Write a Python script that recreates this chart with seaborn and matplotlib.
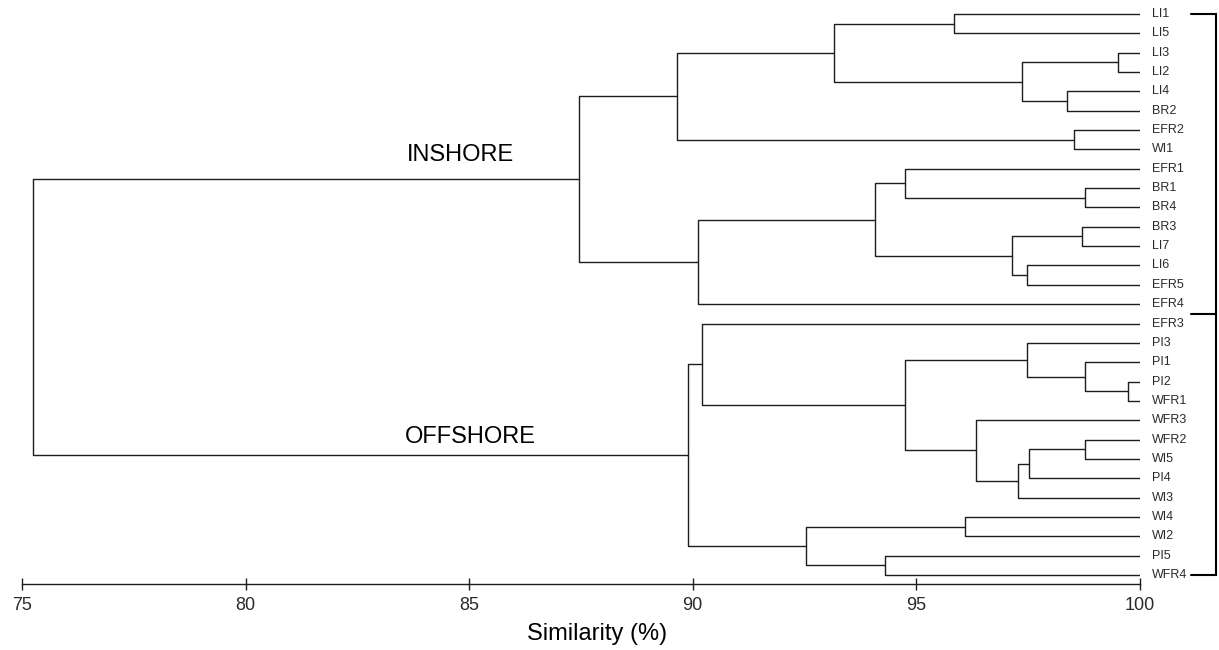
import numpy as np
import pandas as pd
import matplotlib
matplotlib.use("Agg")
import matplotlib.pyplot as plt
import seaborn as sns

# ---------------- data ----------------
leaves = ["LI1", "LI5", "LI3", "LI2", "LI4", "BR2", "EFR2", "WI1",
          "EFR1", "BR1", "BR4", "BR3", "LI7", "LI6", "EFR5", "EFR4",
          "EFR3", "PI3", "PI1", "PI2", "WFR1", "WFR3", "WFR2", "WI5",
          "PI4", "WI3", "WI4", "WI2", "PI5", "WFR4"]

# merges: node ids 0..29 are leaves, new nodes get ids 30, 31, ...
merge_left = [0, 2, 4, 31, 30, 6, 34, 9, 8, 11, 13, 39, 38, 42, 36,
              19, 18, 17, 22, 48, 49, 21, 47, 16, 26, 28, 54, 53, 44]
merge_right = [1, 3, 5, 32, 33, 7, 35, 10, 37, 12, 14, 40, 41, 15, 43,
               20, 45, 46, 23, 24, 25, 50, 51, 52, 27, 29, 55, 56, 57]
merge_sim = [95.85, 99.51, 98.38, 97.37, 93.16, 98.54, 89.65, 98.78, 94.76,
             98.71, 97.49, 97.15, 94.08, 90.12, 87.46,
             99.74, 98.78, 97.49, 98.78, 97.53, 97.29, 96.34, 94.76, 90.21,
             96.09, 94.30, 92.55, 89.89, 75.24]

group_names = ["INSHORE", "OFFSHORE"]
group_sizes = [16, 14]
x_ticks = [75, 80, 85, 90, 95, 100]
x_label = "Similarity (%)"

# ---------------- build dendrogram segments ----------------
n = len(leaves)
node_x = [100.0] * n
node_y = [float(i) for i in range(n)]
records = []
for k, (a, b, h) in enumerate(zip(merge_left, merge_right, merge_sim)):
    pts = [(node_x[a], node_y[a]), (h, node_y[a]), (h, node_y[b]), (node_x[b], node_y[b])]
    for px, py in pts:
        records.append({"sim": px, "row": py, "seg": k})
    node_x.append(h)
    node_y.append((node_y[a] + node_y[b]) / 2.0)
df = pd.DataFrame(records)

# ---------------- plot ----------------
sns.set_theme(style="white")
plt.rcParams["font.family"] = ["Liberation Sans", "DejaVu Sans"]

W, H = 1219, 650
fig = plt.figure(figsize=(W / 100, H / 100), dpi=100)
ax = fig.add_axes([22 / W, 66 / H, 1117.5 / W, 579 / H])

sns.lineplot(data=df, x="sim", y="row", units="seg", estimator=None, sort=False,
             color="#1e1e1e", linewidth=1.0, ax=ax, legend=False)

ax.set_xlim(75, 100)
ax.set_ylim(29.465, -0.465)
ax.set_xlabel("")
ax.set_ylabel("")
ax.set_yticks([])
ax.set_xticks(x_ticks)
ax.set_xticklabels([str(t) for t in x_ticks])
for s in ["top", "right", "left"]:
    ax.spines[s].set_visible(False)
ax.spines["bottom"].set_color("#1e1e1e")
ax.spines["bottom"].set_linewidth(1.0)
ax.tick_params(axis="x", direction="inout", length=9, width=1.0, color="#1e1e1e",
               pad=4.5, labelsize=13, labelcolor="#2a2a2a", bottom=True)

# leaf labels
for i, name in enumerate(leaves):
    ax.text(100.28, i, name, ha="left", va="center", fontsize=9,
            color="#2a2a2a", clip_on=False)

# bracket on the right
bx, bt = 101.71, 101.15
mid = group_sizes[0] - 0.5
ax.plot([bt, bx, bx, bt], [0, 0, mid, mid], color="black", lw=1.5,
        clip_on=False, solid_joinstyle="miter")
ax.plot([bx, bx, bt], [mid, n - 1, n - 1], color="black", lw=1.5,
        clip_on=False, solid_joinstyle="miter")

# group labels
ax.text(84.80, 7.58, group_names[0], ha="center", va="baseline", fontsize=17, color="black")
ax.text(85.03, 22.18, group_names[1], ha="center", va="baseline", fontsize=17, color="black")

fig.text(596.6 / W, 10 / H, x_label, ha="center", va="baseline", fontsize=17, color="black")

fig.savefig("out.png", dpi=100, facecolor="white")
